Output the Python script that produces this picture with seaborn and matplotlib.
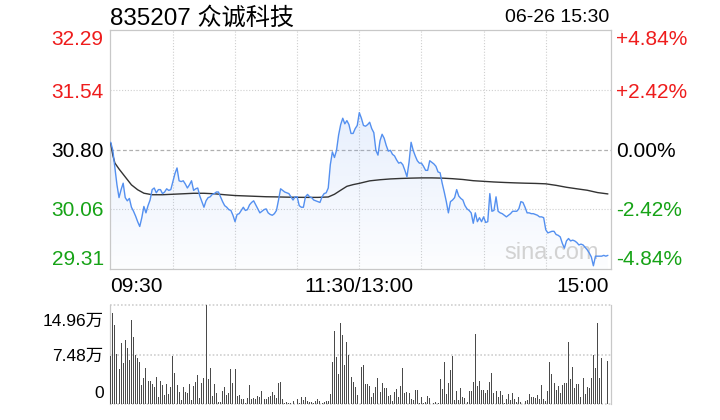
import numpy as np
import pandas as pd
import matplotlib
matplotlib.use("Agg")
import matplotlib.pyplot as plt
import matplotlib.transforms as mtransforms
import seaborn as sns

# ---------------- data ----------------
title_text = "835207 众诚科技"
time_text = "06-26 15:30"
prev_close = 30.80
price_ticks = [32.29, 31.54, 30.80, 30.06, 29.31]
pct_labels = ["+4.84%", "+2.42%", "0.00%", "-2.42%", "-4.84%"]
vol_ticks = [14.96, 7.48, 0]
vol_labels = ["14.96万", "7.48万", "0"]
time_labels = ["09:30", "11:30/13:00", "15:00"]
time_label_minutes = [0, 120, 240]

price = [
    30.89, 30.79, 30.57, 30.36, 30.20, 30.30, 30.38, 30.20, 30.16, 30.19,
    30.08, 30.03, 29.97, 29.90, 29.84, 29.95, 30.09, 30.01, 30.10, 30.17,
    30.30, 30.32, 30.26, 30.30, 30.30, 30.25, 30.27, 30.31, 30.29, 30.30,
    30.40, 30.50, 30.57, 30.41, 30.40, 30.41, 30.37, 30.32, 30.36, 30.41,
    30.29, 30.31, 30.32, 30.22, 30.15, 30.08, 30.16, 30.20, 30.21, 30.24,
    30.25, 30.27, 30.27, 30.21, 30.15, 30.10, 30.08, 30.05, 30.04, 29.98,
    29.90, 29.99, 30.00, 30.04, 30.08, 30.04, 30.05, 30.11, 30.14, 30.16,
    30.11, 30.06, 30.01, 30.03, 30.05, 30.06, 30.01, 29.99, 29.98, 30.00,
    30.04, 30.17, 30.31, 30.29, 30.27, 30.26, 30.25, 30.21, 30.17, 30.21,
    30.21, 30.10, 30.08, 30.08, 30.21, 30.24, 30.21, 30.20, 30.17, 30.16,
    30.15, 30.14, 30.21, 30.25, 30.26, 30.32, 30.61, 30.77, 30.70, 30.79,
    30.98, 31.11, 31.19, 31.12, 31.16, 31.11, 31.00, 31.00, 31.06, 31.10,
    31.26, 31.19, 31.10, 31.09, 31.11, 31.14, 31.06, 31.01, 30.79, 30.73,
    30.91, 30.99, 30.94, 30.85, 30.78, 30.79, 30.74, 30.72, 30.67, 30.63,
    30.64, 30.61, 30.54, 30.46, 30.64, 30.89, 30.79, 30.72, 30.66, 30.63,
    30.63, 30.59, 30.54, 30.54, 30.66, 30.64, 30.62, 30.59, 30.52, 30.51,
    30.38, 30.27, 30.15, 30.01, 30.15, 30.17, 30.20, 30.30, 30.22, 30.19,
    30.17, 30.10, 30.06, 30.04, 30.01, 29.88, 30.01, 29.90, 29.95, 29.90,
    29.96, 29.89, 29.90, 30.25, 30.03, 30.04, 30.21, 30.03, 30.01, 30.00,
    29.98, 29.96, 29.98, 30.00, 30.03, 30.03, 30.03, 30.06, 30.15, 30.14,
    30.08, 30.01, 30.01, 30.00, 30.00, 29.99, 29.98, 29.96, 29.96, 29.95,
    29.80, 29.76, 29.77, 29.78, 29.78, 29.74, 29.73, 29.71, 29.63, 29.57,
    29.66, 29.69, 29.66, 29.67, 29.66, 29.64, 29.61, 29.62, 29.61, 29.58,
    29.55, 29.51, 29.46, 29.35, 29.47, 29.47, 29.47, 29.47, 29.48, 29.47,
    29.48,
]

avg_minute = [0, 1, 2, 4, 7, 10, 13, 16, 20, 25, 30, 35, 40, 45, 50, 55, 60, 65, 70,
              75, 80, 85, 90, 95, 100, 105, 108, 111, 114, 117, 120, 125, 130, 135,
              140, 145, 150, 155, 160, 165, 170, 175, 180, 185, 190, 195, 200, 205,
              210, 215, 220, 225, 230, 235, 240]
avg_price = [30.877, 30.729, 30.631, 30.557, 30.458, 30.359, 30.298, 30.255, 30.236,
             30.236, 30.242, 30.248, 30.254, 30.254, 30.248, 30.236, 30.226, 30.221,
             30.216, 30.211, 30.209, 30.206, 30.204, 30.203, 30.203, 30.208, 30.242,
             30.292, 30.341, 30.362, 30.378, 30.409, 30.423, 30.433, 30.439, 30.443,
             30.446, 30.446, 30.443, 30.436, 30.426, 30.411, 30.403, 30.395, 30.389,
             30.384, 30.380, 30.377, 30.372, 30.353, 30.329, 30.310, 30.292, 30.263,
             30.246]

# volume in 万 shares
volume = [
    7.25, 13.80, 11.94, 7.56, 5.29, 9.26, 6.24, 9.67, 8.42, 6.65,
    12.69, 10.17, 7.40, 6.91, 6.39, 2.87, 3.88, 5.39, 3.48, 3.48,
    3.02, 2.52, 4.03, 1.01, 3.48, 2.83, 1.36, 3.02, 1.51, 2.52,
    7.25, 4.73, 2.87, 1.81, 0.60, 2.61, 1.86, 1.62, 3.02, 0.60,
    2.72, 3.37, 4.38, 0.95, 3.22, 3.97, 14.96, 3.78, 5.44, 1.21,
    3.02, 1.71, 0.30, 0.30, 2.01, 2.52, 1.36, 1.71, 5.29, 3.22,
    5.29, 1.21, 1.36, 0.80, 0.71, 0.20, 0.91, 2.87, 0.80, 0.95,
    0.71, 1.21, 1.10, 2.01, 0.80, 0.80, 1.01, 1.21, 1.81, 1.36,
    0.91, 3.13, 3.32, 0.76, 0.11, 0.26, 0.08, 0.20, 0.45, 0.05,
    0.76, 0.20, 1.06, 0.65, 1.06, 0.45, 0.35, 0.30, 0.20, 0.50,
    0.76, 0.45, 0.08, 0.26, 0.45, 0.45, 1.51, 6.35, 11.03, 7.15,
    4.53, 12.24, 10.43, 5.89, 9.37, 7.40, 4.08, 3.32, 2.57, 1.36,
    0.05, 5.59, 5.89, 3.02, 3.02, 2.72, 1.06, 1.66, 2.57, 3.93,
    1.81, 3.17, 2.42, 2.42, 1.21, 1.36, 0.45, 1.81, 2.27, 1.06,
    2.72, 5.44, 1.66, 1.81, 1.66, 0.76, 0.60, 2.12, 2.12, 0.15,
    1.06, 0.15, 0.30, 1.21, 0.91, 0.05, 0.15, 0.30, 0.15,
    3.78, 2.27, 6.35, 1.51, 3.17, 5.14, 7.25, 0.60, 1.96, 0.60,
    2.42, 1.06, 0.91, 0.30, 1.96, 1.96, 3.32, 10.58, 2.72, 3.48,
    2.12, 2.12, 1.66, 2.12, 3.32, 4.68, 1.66, 1.96, 1.06, 1.96,
    1.36, 0.15, 0.76, 1.51, 0.60, 1.66, 0.76, 0.30, 1.06, 0.30,
    0.05, 0.45, 0.60, 1.51, 1.06, 1.06, 0.91, 1.36, 0.76, 2.87,
    0.76, 0.45, 1.96, 6.35, 4.53, 3.17, 2.12, 2.72, 1.66, 2.87,
    3.17, 3.17, 9.37, 3.78, 5.59, 2.42, 3.02, 3.02, 1.06, 3.93,
    1.51, 2.57, 2.42, 3.93, 7.40, 5.44, 12.24, 3.93, 6.95, 0.05,
    0.05, 6.50,
]
minute = list(range(len(price)))

# ---------------- style ----------------
RED = "#ee1c1c"
GREEN = "#16a316"
LINE_BLUE = "#5490f0"
AVG_COLOR = "#333333"
GRID = "#cfcfcf"
FRAME = "#c8c8c8"
VOL_COLOR = "#4a4a4a"

sns.set_style("white")
plt.rcParams["font.family"] = ["Liberation Sans", "Noto Sans CJK SC", "DejaVu Sans"]

W, H = 720, 420
fig = plt.figure(figsize=(W / 100, H / 100), dpi=100)
L, R = 109.7, 611.0
PT, PB = 30.0, 269.0
VT, VB = 305.0, 404.0
ax = fig.add_axes([L / W, 1 - PB / H, (R - L) / W, (PB - PT) / H])
axv = fig.add_axes([L / W, 1 - VB / H, (R - L) / W, (VB - VT) / H])

df = pd.DataFrame({"minute": minute, "price": price, "volume": volume})
avg_df = pd.DataFrame({"minute": avg_minute, "avg": avg_price})

ylo, yhi = min(price_ticks), max(price_ticks)
xlo, xhi = -0.5, 241.5

# gradient area under the price line
poly = ax.fill_between(df["minute"], df["price"], ylo, facecolor="none", edgecolor="none")
grad = np.zeros((256, 1, 4))
grad[..., :3] = matplotlib.colors.to_rgb("#6f9ff2")
grad[:, 0, 3] = np.linspace(0.24, 0.02, 256)
im = ax.imshow(grad, extent=[xlo, xhi, ylo, yhi], aspect="auto", origin="upper", zorder=1)
im.set_clip_path(poly.get_paths()[0], transform=ax.transData)

# grid
for k in range(1, 8):
    ax.axvline(k * 30, color=GRID, lw=0.8, ls=(0, (1, 1.6)), zorder=0.5)
for v in price_ticks[1:-1]:
    if v == prev_close:
        ax.axhline(v, color="#b0b0b0", lw=0.9, ls=(0, (3, 2)), zorder=0.5)
    else:
        ax.axhline(v, color=GRID, lw=0.8, ls=(0, (1, 1.6)), zorder=0.5)

sns.lineplot(data=avg_df, x="minute", y="avg", ax=ax, color=AVG_COLOR, lw=1.0,
             estimator=None, sort=False, zorder=3)
sns.lineplot(data=df, x="minute", y="price", ax=ax, color=LINE_BLUE, lw=1.0,
             estimator=None, sort=False, zorder=4)

ax.set_xlim(xlo, xhi)
ax.set_ylim(ylo, yhi)
ax.set(xlabel="", ylabel="", xticks=[], yticks=[])
for s in ax.spines.values():
    s.set_color(FRAME)
    s.set_linewidth(0.9)

# price labels
trL = mtransforms.blended_transform_factory(ax.transAxes, ax.transData)
fs = 15
for i, (v, pl) in enumerate(zip(price_ticks, pct_labels)):
    col = RED if v > prev_close else (GREEN if v < prev_close else "black")
    va = "top" if i == 0 else ("bottom" if i == len(price_ticks) - 1 else "center_baseline")
    ax.text(-0.012, v, f"{v:.2f}", transform=trL, ha="right", va=va, color=col, fontsize=fs)
    ax.text(1.01, v, pl, transform=trL, ha="left", va=va, color=col, fontsize=fs)

# watermark
ax.text(0.975, 0.065, "sina.com", transform=ax.transAxes, ha="right", va="center",
        color="#d2d2d2", fontsize=17, zorder=2)

# time labels
for m, t in zip(time_label_minutes, time_labels):
    ha = "left" if m == 0 else ("right" if m == 240 else "center")
    xx = xlo if m == 0 else (xhi - 1 if m == 240 else m)
    ax.text(xx, -0.035, t, transform=mtransforms.blended_transform_factory(ax.transData, ax.transAxes),
            ha=ha, va="top", fontsize=fs, color="black")

# title & time
fig.text(L / W, 1 - 18 / H, title_text, ha="left", va="center", fontsize=17.4, color="black")
fig.text(609 / W, 1 - 18 / H, time_text, ha="right", va="center", fontsize=14, color="black")

# ---------------- volume ----------------
sns.barplot(data=df, x="minute", y="volume", ax=axv, native_scale=True, color=VOL_COLOR,
            width=0.5, errorbar=None, linewidth=0, saturation=1, zorder=3)
axv.set_xlim(xlo, xhi)
axv.set_ylim(0, max(vol_ticks))
axv.set(xlabel="", ylabel="", xticks=[], yticks=[])
for side in ["top", "bottom"]:
    axv.spines[side].set_visible(False)
for side in ["left", "right"]:
    axv.spines[side].set_color(FRAME)
    axv.spines[side].set_linewidth(0.9)
for v in vol_ticks:
    axv.axhline(v, color=GRID, lw=1.2, ls=(0, (1, 1.2)), zorder=0.5, clip_on=False)

trV = mtransforms.blended_transform_factory(axv.transAxes, axv.transData)
vfs = 12.5
axv.text(-0.012, vol_ticks[0], vol_labels[0], ha="right", va="center_baseline",
         transform=mtransforms.offset_copy(trV, fig=fig, x=0, y=-15, units="dots"),
         fontsize=vfs, color="black")
axv.text(-0.012, vol_ticks[1], vol_labels[1], transform=trV, ha="right", va="center_baseline",
         fontsize=vfs, color="black")
axv.text(-0.012, vol_ticks[2], vol_labels[2], ha="right", va="center_baseline",
         transform=mtransforms.offset_copy(trV, fig=fig, x=0, y=12, units="dots"),
         fontsize=vfs, color="black")

fig.savefig("out.png", dpi=100)
